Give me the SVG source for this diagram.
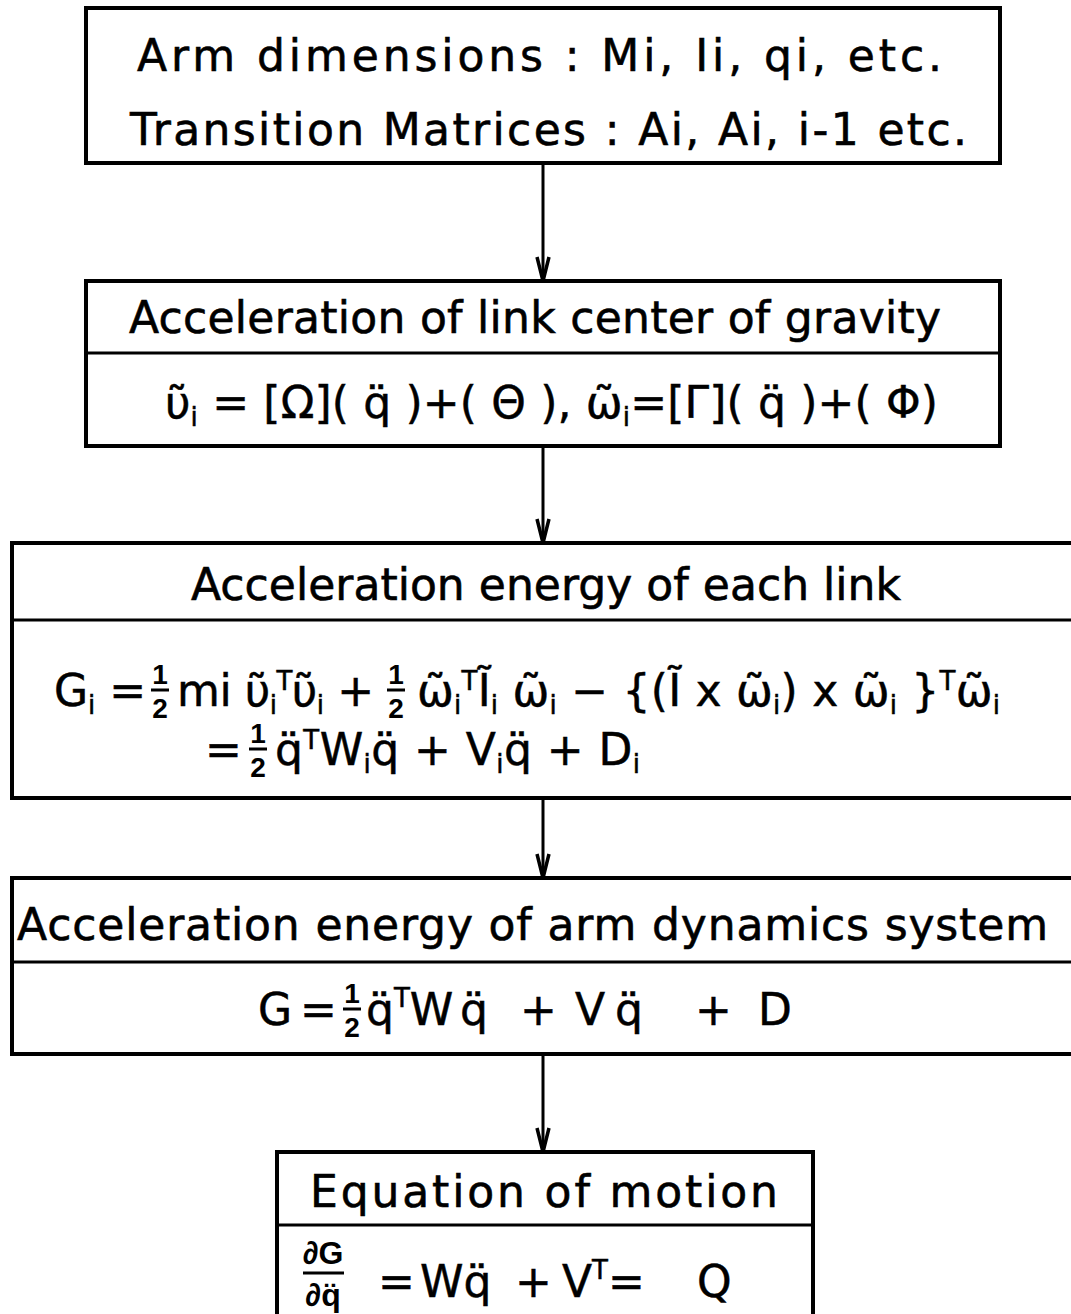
<svg xmlns="http://www.w3.org/2000/svg" width="1071" height="1314" viewBox="0 0 1071 1314">
<style>
.box{fill:#fff;stroke:#000;stroke-width:4}
.dv{stroke:#000;stroke-width:3}
.t{font-family:"DejaVu Sans","Liberation Sans",sans-serif;font-size:44px;fill:#000;stroke:#000;stroke-width:0.6}
.f{font-family:"DejaVu Sans","Liberation Sans",sans-serif;font-size:44px;fill:#000;stroke:#000;stroke-width:0.5}
.s{font-size:26px}
.fr{font-family:"Liberation Sans","DejaVu Sans",sans-serif;font-size:28px;fill:#000;text-anchor:middle;font-weight:bold}
.bar{stroke:#000;stroke-width:3}
.conn line{stroke:#000;stroke-width:3}
</style>
<defs>
<marker id="ah" markerUnits="userSpaceOnUse" viewBox="0 0 26 16" refX="25" refY="8" markerWidth="26" markerHeight="16" orient="auto">
<path d="M1,2 L25,8 L1,14" fill="none" stroke="#000" stroke-width="3.5"/>
</marker>
</defs>
<rect width="1071" height="1314" fill="#fff"/>

<g id="connectors" class="conn">
<line x1="543" y1="163" x2="543" y2="281" marker-end="url(#ah)"/>
<line x1="543" y1="446" x2="543" y2="543" marker-end="url(#ah)"/>
<line x1="543" y1="798" x2="543" y2="878" marker-end="url(#ah)"/>
<line x1="543" y1="1054" x2="543" y2="1152" marker-end="url(#ah)"/>
</g>

<g id="node-inputs">
<rect class="box" x="86" y="8" width="914" height="155"/>
<text class="t" x="137" y="71" textLength="805" lengthAdjust="spacing">Arm dimensions : Mi, Ii, qi, etc.</text>
<text class="t" x="130" y="145" textLength="837" lengthAdjust="spacing">Transition  Matrices : Ai, Ai, i-1 etc.</text>
</g>

<g id="node-acceleration">
<rect class="box" x="86" y="281" width="914" height="165"/>
<line class="dv" x1="86" y1="353" x2="1000" y2="353"/>
<text class="t" x="129" y="333" textLength="812" lengthAdjust="spacing">Acceleration of link center of gravity</text>
<text class="f" x="165" y="418" textLength="773" lengthAdjust="spacing">&#8166;<tspan class="s" dy="8">i</tspan><tspan dy="-8"> = [&#937;]( q&#776; )+( &#920; ), &#8182;</tspan><tspan class="s" dy="8">i</tspan><tspan dy="-8">=[&#915;]( q&#776; )+( &#934;)</tspan></text>
</g>

<g id="node-link-energy">
<rect class="box" x="12" y="543" width="1080" height="255"/>
<line class="dv" x1="12" y1="620" x2="1071" y2="620"/>
<text class="t" x="191" y="600" textLength="710" lengthAdjust="spacing">Acceleration energy of each link</text>
<text class="f" x="54" y="706">G<tspan class="s" dy="8">i</tspan><tspan dy="-8"> =</tspan></text>
<text class="fr" x="160" y="684">1</text><line class="bar" x1="151" y1="690" x2="169" y2="690"/><text class="fr" x="160" y="718">2</text>
<text class="f" x="177" y="706" textLength="197" lengthAdjust="spacing">mi &#8166;<tspan class="s" dy="8">i</tspan><tspan class="s" dy="-24">T</tspan><tspan dy="16">&#8166;</tspan><tspan class="s" dy="8">i</tspan><tspan dy="-8"> +</tspan></text>
<text class="fr" x="396" y="684">1</text><line class="bar" x1="387" y1="690" x2="405" y2="690"/><text class="fr" x="396" y="718">2</text>
<text class="f" x="417" y="706" textLength="583" lengthAdjust="spacing">&#8182;<tspan class="s" dy="8">i</tspan><tspan class="s" dy="-24">T</tspan><tspan dy="16">&#296;</tspan><tspan class="s" dy="8">i</tspan><tspan dy="-8"> &#8182;</tspan><tspan class="s" dy="8">i</tspan><tspan dy="-8"> &#8722; {(&#296; x &#8182;</tspan><tspan class="s" dy="8">i</tspan><tspan dy="-8">) x &#8182;</tspan><tspan class="s" dy="8">i</tspan><tspan dy="-8"> }</tspan><tspan class="s" dy="-16">T</tspan><tspan dy="16">&#8182;</tspan><tspan class="s" dy="8">i</tspan></text>
<text class="f" x="205" y="765">=</text>
<text class="fr" x="258" y="743">1</text><line class="bar" x1="249" y1="749" x2="267" y2="749"/><text class="fr" x="258" y="777">2</text>
<text class="f" x="275" y="765" textLength="365" lengthAdjust="spacing">q&#776;<tspan class="s" dy="-16">T</tspan><tspan dy="16">W</tspan><tspan class="s" dy="8">i</tspan><tspan dy="-8">q&#776; + V</tspan><tspan class="s" dy="8">i</tspan><tspan dy="-8">q&#776; + D</tspan><tspan class="s" dy="8">i</tspan></text>
</g>

<g id="node-system-energy">
<rect class="box" x="12" y="878" width="1080" height="176"/>
<line class="dv" x1="12" y1="962" x2="1071" y2="962"/>
<text class="t" x="17" y="940" textLength="1031" lengthAdjust="spacing">Acceleration energy of arm dynamics system</text>
<text class="f" x="258" y="1025">G</text>
<text class="f" x="300" y="1025">=</text>
<text class="fr" x="352" y="1003">1</text><line class="bar" x1="343" y1="1009" x2="361" y2="1009"/><text class="fr" x="352" y="1037">2</text>
<text class="f" x="366" y="1025">q&#776;<tspan class="s" dy="-18">T</tspan><tspan dy="18">W</tspan></text>
<text class="f" x="460" y="1025">q&#776;</text>
<text class="f" x="520" y="1025">+</text>
<text class="f" x="575" y="1025">V</text>
<text class="f" x="615" y="1025">q&#776;</text>
<text class="f" x="695" y="1025">+</text>
<text class="f" x="758" y="1025">D</text>
</g>

<g id="node-motion">
<rect class="box" x="277" y="1152" width="536" height="180"/>
<line class="dv" x1="277" y1="1225" x2="813" y2="1225"/>
<text class="t" x="310" y="1207" textLength="468" lengthAdjust="spacing">Equation of motion</text>
<text class="fr" x="323" y="1264" style="font-size:32px">&#8706;G</text>
<line class="bar" x1="303" y1="1273" x2="344" y2="1273"/>
<text class="fr" x="323" y="1306" style="font-size:32px">&#8706;q&#776;</text>
<text class="f" x="378" y="1297">=</text>
<text class="f" x="420" y="1297">Wq&#776;</text>
<text class="f" x="515" y="1297">+</text>
<text class="f" x="562" y="1297">V<tspan class="s" dy="-18">T</tspan><tspan dy="18">=</tspan></text>
<text class="f" x="697" y="1297">Q</text>
</g>
</svg>
